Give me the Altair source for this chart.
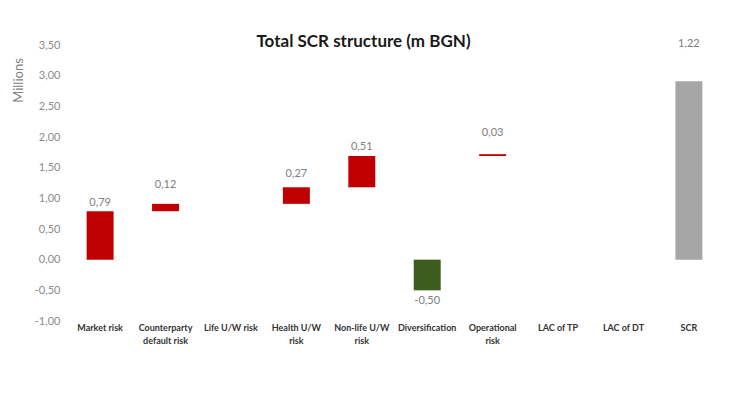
import altair as alt
import pandas as pd

categories = ["Market risk", "Counterparty\ndefault risk", "Life U/W risk", "Health U/W\nrisk",
              "Non-life U/W\nrisk", "Diversification", "Operational\nrisk", "LAC of TP", "LAC of DT", "SCR"]
bar_start = [0.0, 0.79, None, 0.91, 1.18, 0.0, 1.69, None, None, 0.0]
bar_end = [0.79, 0.91, None, 1.18, 1.69, -0.50, 1.72, None, None, 2.91]
label_value = [0.79, 0.12, None, 0.27, 0.51, -0.50, 0.03, None, None, 1.22]
label_at = [0.93, 1.22, None, 1.39, 1.83, -0.68, 2.07, None, None, 3.51]
kind = ["increase", "increase", None, "increase", "increase", "decrease", "increase", None, None, "total"]
y_ticks = [-1.0, -0.5, 0.0, 0.5, 1.0, 1.5, 2.0, 2.5, 3.0, 3.5]

df = pd.DataFrame({
    "category": categories,
    "start": bar_start,
    "end": bar_end,
    "label": label_value,
    "label_at": label_at,
    "kind": kind,
})

fmt = "replace(replace(format({v}, '.2f'), '.', ','), '\u2212', '-')"

x = alt.X("category:N", sort=categories,
          scale=alt.Scale(domain=categories, paddingInner=0.588, paddingOuter=0.3),
          axis=alt.Axis(title=None, labelAngle=0, labelExpr="split(datum.label, '\\n')",
                        domain=False, ticks=False, labelPadding=2, labelFont="Lato",
                        labelFontSize=9, labelColor="#333333", labelFontWeight="bold",
                        labelLineHeight=13, labelBaseline="top"))

yscale = alt.Scale(domain=[-1.0, 3.5], nice=False, zero=False)
yaxis = alt.Axis(values=y_ticks, title="Millions", grid=False, domain=False, ticks=False,
                 labelOverlap=False, labelBound=False, labelFlush=False,
                 labelExpr=fmt.format(v="datum.value"),
                 labelFont="Lato", labelFontSize=11, labelColor="#8C8C8C", labelPadding=7,
                 titleFont="Lato", titleFontSize=13, titleFontWeight="normal",
                 titleColor="#7F7F7F", titleX=-49, titleY=35, titleAngle=270,
                 titleAlign="center", titleBaseline="middle")

bars = alt.Chart(df).transform_filter("isValid(datum.start)").mark_bar().encode(
    x=x,
    y=alt.Y("start:Q", scale=yscale, axis=yaxis),
    y2="end:Q",
    color=alt.Color("kind:N", scale=alt.Scale(domain=["increase", "decrease", "total"],
                                              range=["#C00000", "#3B5E1F", "#A6A6A6"]),
                    legend=None),
)

texts = alt.Chart(df).transform_filter("isValid(datum.label)").transform_calculate(
    txt=fmt.format(v="datum.label")
).mark_text(font="Lato", fontSize=11, color="#808080", baseline="middle").encode(
    x=x,
    y=alt.Y("label_at:Q", scale=yscale, axis=yaxis),
    text="txt:N",
)

chart = alt.layer(bars, texts).properties(
    width=655, height=276,
    title=alt.TitleParams("Total SCR structure (m BGN)", font="Lato", fontSize=17, fontWeight="bold",
                          color="#1A1A1A", anchor="middle", dx=-31, offset=-26, baseline="alphabetic"),
    autosize=alt.AutoSizeParams(type="none"),
    padding={"left": 59, "top": 37, "right": 9, "bottom": 70},
).configure_view(strokeWidth=0)

chart.save("out.html", embed_options={"renderer": "svg", "actions": False})
